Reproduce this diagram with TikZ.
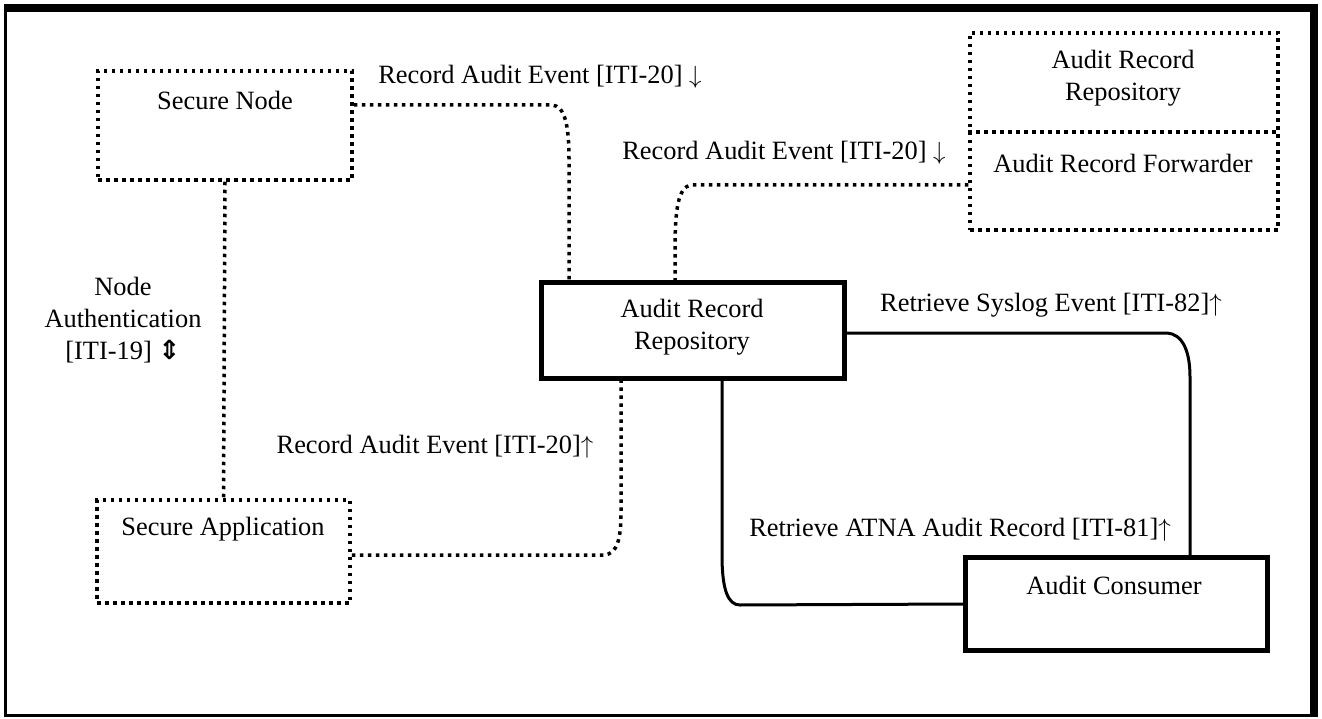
\documentclass[tikz,border=0pt]{standalone}
\usepackage{fontspec}
\setmainfont{Liberation Serif}
\newfontfamily\arrowfont{DejaVu Sans}
\begin{document}
\begin{tikzpicture}[x=1pt,y=-1pt,
  txt/.style={font=\fontsize{26.4pt}{31.7pt}\selectfont,align=center,inner sep=0pt},
  dotbox/.style={draw,line width=3.5pt,dash pattern=on 3.5pt off 4.5pt,inner sep=0pt},
  boldbox/.style={draw,line width=5pt,inner sep=0pt},
  dotline/.style={line width=3.5pt,dash pattern=on 3.5pt off 4.5pt},
  solidline/.style={line width=3pt}]
\useasboundingbox (0,0) rectangle (1322,719);
% frame
\draw[line width=8pt] (4,8) -- (1318,8);
\draw[line width=8pt] (1313.5,4) -- (1313.5,717);
\draw[line width=3pt] (5.5,6) -- (5.5,717);
\draw[line width=3pt] (4,715.5) -- (1318,715.5);
% boxes
\node[dotbox,minimum width=254pt,minimum height=109pt] (secnode) at (225,125.5) {};
\node[dotbox,minimum width=253pt,minimum height=103pt] (secapp) at (223.5,551.5) {};
\node[dotbox,minimum width=308pt,minimum height=197pt] (fwd) at (1124,131.5) {};
\node[boldbox,minimum width=302.5pt,minimum height=95pt] (arr) at (692.75,330.5) {};
\node[boldbox,minimum width=302pt,minimum height=93pt] (cons) at (1116.5,604) {};
\draw[dotline] (fwd.west |- 0,132) -- (fwd.east |- 0,132);
% box texts
\node[txt] (secnodetxt) at (225,100) {Secure Node};
\node[txt] (secapptxt) at (223,529) {Secure Application};
\node[txt] (repotxt) at (1123,78) {Audit Record\\Repository};
\node[txt] (fwdtxt) at (1123,163) {Audit Record Forwarder};
\node[txt] (arrtxt) at (692,327) {Audit Record\\Repository};
\node[txt] (constxt) at (1114,585) {Audit Consumer};
% connector labels
\node[txt] (lbla) at (540,77) {Record Audit Event [ITI-20] $\downarrow$};
\node[txt] (lblb) at (784,153) {Record Audit Event [ITI-20] $\downarrow$};
\node[txt] (lblc) at (435,447) {Record Audit Event [ITI-20]$\uparrow$};
\node[txt] (lbld) at (1051,305) {Retrieve Syslog Event [ITI-82]$\uparrow$};
\node[txt] (lble) at (960,530) {Retrieve ATNA Audit Record [ITI-81]$\uparrow$};
\node[txt] (lblf) at (123,320) {Node\\Authentication\\{[ITI-19]} {\arrowfont\bfseries ⇕}};
% connectors
\draw[dotline] (secnode.south) -- (secapp.north);
\draw[dotline] (secnode.east |- 0,105) -- (552,105) .. controls (565,106) and (569,125) .. (569,160) -- (569,0 |- arr.north);
\draw[dotline] (fwd.west |- 0,185) -- (691,185) .. controls (678,187) and (675,210) .. (675,250) -- (675,0 |- arr.north);
\draw[dotline] (secapp.east |- 0,555) -- (605,555) .. controls (617,553) and (621,540) .. (621,512) -- (621,0 |- arr.south);
\draw[solidline] (722,0 |- arr.south) -- (722,555) .. controls (722,590) and (728,605) .. (740,605) -- (cons.west);
\draw[solidline] (arr.east |- 0,333) -- (1167,333) .. controls (1182,334) and (1190,350) .. (1190,377) -- (1190,0 |- cons.north);
\end{tikzpicture}
\end{document}
